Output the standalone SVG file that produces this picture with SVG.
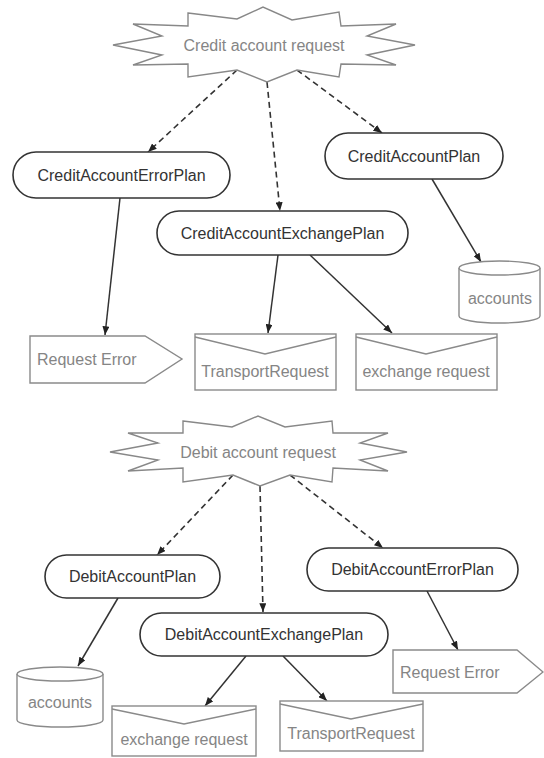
<svg xmlns="http://www.w3.org/2000/svg" width="544" height="758" viewBox="0 0 544 758">
<defs>
<marker id="ah" viewBox="0 0 10 8" refX="10" refY="4" markerWidth="9" markerHeight="7" markerUnits="userSpaceOnUse" orient="auto">
<path d="M0,0 L10,4 L0,8 Z" fill="#222"/>
</marker>
<style>
.burst{fill:#fff;stroke:#888;stroke-width:1.4;stroke-linejoin:miter}
.plan{fill:#fff;stroke:#333;stroke-width:1.6}
.out{fill:#fff;stroke:#8a8a8a;stroke-width:1.4}
.lbl{font-family:"Liberation Sans",Arial,sans-serif;font-size:16px;fill:#333;text-anchor:middle}
.glbl{font-family:"Liberation Sans",Arial,sans-serif;font-size:16px;fill:#858585;text-anchor:middle}
.gl{font-family:"Liberation Sans",Arial,sans-serif;font-size:16px;fill:#858585}
.dash{fill:none;stroke:#333;stroke-width:1.6;stroke-dasharray:6,4;marker-end:url(#ah)}
.solid{fill:none;stroke:#333;stroke-width:1.5;marker-end:url(#ah)}
</style>
</defs>
<rect width="544" height="758" fill="#fff"/>

<g id="connectors">
<line class="dash" x1="237" y1="70" x2="148" y2="152"/>
<line class="dash" x1="267" y1="82" x2="280" y2="211"/>
<line class="dash" x1="297" y1="70" x2="382" y2="133"/>
<line class="solid" x1="120" y1="198" x2="105" y2="335"/>
<line class="solid" x1="278" y1="255" x2="268" y2="333"/>
<line class="solid" x1="310" y1="255" x2="392" y2="333"/>
<line class="solid" x1="432" y1="179" x2="481" y2="262"/>
<line class="dash" x1="233" y1="475" x2="157" y2="555"/>
<line class="dash" x1="260" y1="486" x2="263" y2="612"/>
<line class="dash" x1="290" y1="475" x2="383" y2="548"/>
<line class="solid" x1="118" y1="598" x2="78" y2="666"/>
<line class="solid" x1="427" y1="591" x2="458" y2="650"/>
<line class="solid" x1="246" y1="656" x2="205" y2="706"/>
<line class="solid" x1="283" y1="656" x2="327" y2="701"/>
</g>

<g id="credit-request">
<polygon class="burst" points="188,13 237,19 263,7 292,20 339,12 341,26 396,24 367,36 415,45 367,55 396,65 341,64 339,77 297,70 267,82 237,70 188,77 188,64 133,65 162,55 113,45 162,36 133,24 188,26"/>
<text class="glbl" x="264" y="51">Credit account request</text>
</g>

<g id="credit-error-plan">
<rect class="plan" x="13" y="152" width="217" height="46" rx="23"/>
<text class="lbl" x="121.5" y="181">CreditAccountErrorPlan</text>
</g>

<g id="credit-plan">
<rect class="plan" x="325" y="133" width="178" height="46" rx="23"/>
<text class="lbl" x="414" y="162">CreditAccountPlan</text>
</g>

<g id="credit-exchange-plan">
<rect class="plan" x="157" y="211" width="251" height="44" rx="22"/>
<text class="lbl" x="282.5" y="239">CreditAccountExchangePlan</text>
</g>

<g id="credit-accounts">
<path class="out" d="M459,268 A40.5,7 0 0 1 540,268 V316 A40.5,7 0 0 1 459,316 Z"/>
<path class="out" fill="none" d="M459,268 A40.5,7 0 0 0 540,268"/>
<text class="glbl" x="500" y="304">accounts</text>
</g>

<g id="credit-request-error">
<polygon class="out" points="30,336 145,336 182,359 145,383 30,383"/>
<text class="gl" x="37" y="365">Request Error</text>
</g>

<g id="credit-transport-request">
<rect class="out" x="195" y="334" width="141" height="56"/>
<polyline class="out" fill="none" points="195,337 265,354 336,337"/>
<text class="glbl" x="265" y="377">TransportRequest</text>
</g>

<g id="credit-exchange-request">
<rect class="out" x="356" y="334" width="141" height="56"/>
<polyline class="out" fill="none" points="356,337 426,354 497,337"/>
<text class="glbl" x="426" y="377">exchange request</text>
</g>

<g id="debit-request">
<polygon class="burst" points="183,421 232,427 258,416 285,427 332,421 333,433 388,433 360,443 407,452 360,460 388,471 333,468 332,482 290,475 260,486 233,475 183,482 183,468 128,471 158,460 110,452 158,443 128,433 183,433"/>
<text class="glbl" x="258" y="458">Debit account request</text>
</g>

<g id="debit-plan">
<rect class="plan" x="45" y="555" width="175" height="43" rx="21.5"/>
<text class="lbl" x="132.5" y="582">DebitAccountPlan</text>
</g>

<g id="debit-error-plan">
<rect class="plan" x="307" y="548" width="211" height="43" rx="21.5"/>
<text class="lbl" x="412.5" y="575">DebitAccountErrorPlan</text>
</g>

<g id="debit-exchange-plan">
<rect class="plan" x="140" y="613" width="248" height="43" rx="21.5"/>
<text class="lbl" x="264" y="640">DebitAccountExchangePlan</text>
</g>

<g id="debit-accounts">
<path class="out" d="M17,674 A43,7 0 0 1 103,674 V720 A43,7 0 0 1 17,720 Z"/>
<path class="out" fill="none" d="M17,674 A43,7 0 0 0 103,674"/>
<text class="glbl" x="60" y="708">accounts</text>
</g>

<g id="debit-exchange-request">
<rect class="out" x="112" y="706" width="144" height="50"/>
<polyline class="out" fill="none" points="112,709 184,724 256,709"/>
<text class="glbl" x="184" y="745">exchange request</text>
</g>

<g id="debit-transport-request">
<rect class="out" x="280" y="701" width="143" height="50"/>
<polyline class="out" fill="none" points="280,704 351,719 423,704"/>
<text class="glbl" x="351" y="739">TransportRequest</text>
</g>

<g id="debit-request-error">
<polygon class="out" points="393,650 517,650 543,672 517,693 393,693"/>
<text class="gl" x="400" y="678">Request Error</text>
</g>
</svg>
